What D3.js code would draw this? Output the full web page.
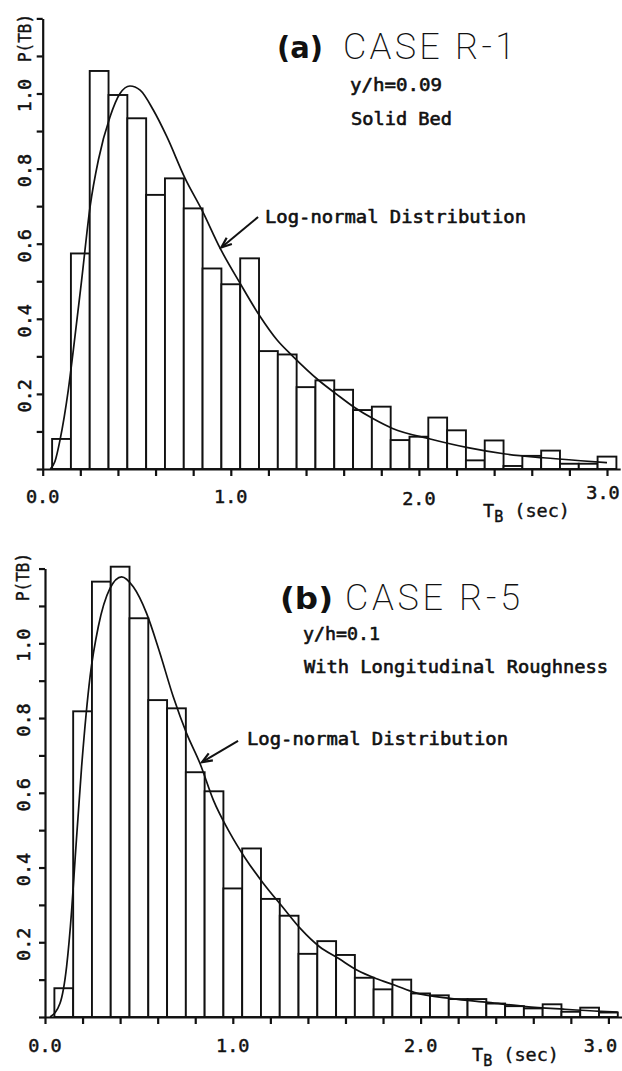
<!DOCTYPE html>
<html><head><meta charset="utf-8">
<script src="https://cdn.jsdelivr.net/npm/d3@7"></script>
<style>html,body{margin:0;padding:0;background:#fff;} svg{display:block;}</style>
</head><body><div id="chart"></div>
<script>
// ---------- DATA ----------
const binCenters = [0.1,0.2,0.3,0.4,0.5,0.6,0.7,0.8,0.9,1.0,1.1,1.2,1.3,1.4,1.5,1.6,1.7,1.8,1.9,2.0,2.1,2.2,2.3,2.4,2.5,2.6,2.7,2.8,2.9,3.0];
const binWidth = 0.1;
const caseR1Values = [0.080,0.574,1.060,0.996,0.934,0.730,0.774,0.694,0.534,0.492,0.561,0.314,0.305,0.218,0.236,0.211,0.157,0.166,0.077,0.086,0.137,0.103,0.023,0.076,0.008,0.035,0.049,0.014,0.014,0.033];
const caseR5Values = [0.077,0.818,1.165,1.205,1.067,0.848,0.826,0.655,0.604,0.344,0.451,0.316,0.271,0.169,0.203,0.166,0.105,0.074,0.100,0.063,0.058,0.048,0.048,0.036,0.029,0.023,0.034,0.014,0.025,0.012];
const fitR1T = [0.04,0.065,0.092,0.136,0.163,0.207,0.252,0.296,0.358,0.411,0.464,0.518,0.588,0.66,0.757,0.846,0.943,1.049,1.156,1.245,1.33,1.47,1.56,1.66,1.76,1.86,2.06,2.26,2.46,2.66,2.86,3.0];
const fitR1P = [0.0,0.02,0.077,0.21,0.317,0.503,0.699,0.823,0.938,1.0,1.02,1.009,0.956,0.885,0.774,0.69,0.588,0.495,0.406,0.344,0.30,0.235,0.2,0.163,0.133,0.108,0.080,0.057,0.040,0.030,0.022,0.017];
const fitR5T = [0.027,0.08,0.115,0.142,0.16,0.195,0.24,0.284,0.346,0.408,0.47,0.541,0.608,0.683,0.754,0.825,0.896,0.985,1.061,1.162,1.264,1.363,1.462,1.562,1.663,1.762,1.864,1.965,2.166,2.36,2.56,2.76,2.96,3.05];
const fitR5P = [0.0,0.037,0.135,0.286,0.42,0.67,0.911,1.045,1.147,1.178,1.151,1.08,0.98,0.857,0.759,0.679,0.581,0.492,0.429,0.358,0.295,0.235,0.188,0.157,0.125,0.103,0.085,0.066,0.049,0.039,0.028,0.021,0.015,0.013];
const xTickValues = [0,0.2,0.4,0.6,0.8,1.0,1.2,1.4,1.6,1.8,2.0,2.2,2.4,2.6,2.8,3.0];
const xLabelValues = [0,1,2,3];
const xLabelTexts = ["0.0","1.0","2.0","3.0"];
const yTickValues = [0,0.1,0.2,0.3,0.4,0.5,0.6,0.7,0.8,0.9,1.0,1.1,1.2];
const yLabelValues = [0.2,0.4,0.6,0.8,1.0];
const yLabelTexts = ["0.2","0.4","0.6","0.8","1.0"];
const panelTags = ["(a)","(b)"];
const caseNames = ["CASE R-1","CASE R-5"];
const conditionLinesA = ["y/h=0.09","Solid Bed"];
const conditionLinesB = ["y/h=0.1","With Longitudinal Roughness"];
const fitLabel = "Log-normal Distribution";
const yAxisTitle = "P(TB)";

// ---------- LAYOUT ----------
const W = 622, H = 1071;
const svg = d3.select("#chart").append("svg").attr("width", W).attr("height", H)
  .style("background","#fff");
const mono = "'DejaVu Sans Mono', 'Liberation Mono', monospace";
const ink = "#111";

const panels = [
  { values: caseR1Values, fitT: fitR1T, fitP: fitR1P,
    xr: [42.7, 42.7 + 3.07*188.1], y0: 469, yTop: 469 - 1.2*375.5,
    yLabelX: 25, titleY: 38,
    xLabelY: 503, xLabelDx: [0,0,0,-4], xLabelDy: [0,0,2,-4],
    tb: {x: 483, y: 517},
    tag: {text: panelTags[0], x: 277, y: 58, w: 46},
    caseName: {text: caseNames[0], x: 343, y: 59, w: 172},
    lines: [{text: conditionLinesA[0], x: 350, y: 91, w: 92}, {text: conditionLinesA[1], x: 351, y: 125, w: 101}],
    fitText: {x: 265, y: 223, w: 261},
    arrow: {tail: [1.145, 0.671], tip: [0.95, 0.59]} },
  { values: caseR5Values, fitT: fitR5T, fitP: fitR5P,
    xr: [45, 45 + 3.07*187.8], y0: 1017, yTop: 1017 - 1.2*373.7,
    yLabelX: 23.5, titleY: 577,
    xLabelY: 1052, xLabelDx: [0,0,0,-8], xLabelDy: [0,0,0,0],
    tb: {x: 472, y: 1061},
    tag: {text: panelTags[1], x: 280, y: 609, w: 53},
    caseName: {text: caseNames[1], x: 345, y: 610, w: 175},
    lines: [{text: conditionLinesB[0], x: 303, y: 640, w: 77}, {text: conditionLinesB[1], x: 304, y: 673, w: 304}],
    fitText: {x: 247, y: 745, w: 261},
    arrow: {tail: [1.028, 0.739], tip: [0.836, 0.682]} }
];

function heavy(sel, w) {
  return sel.attr("stroke", ink).attr("stroke-width", w).attr("stroke-linejoin","round");
}

panels.forEach(P => {
  const g = svg.append("g");
  const x = d3.scaleLinear().domain([0, 3.07]).range(P.xr);
  const y = d3.scaleLinear().domain([0, 1.2]).range([P.y0, P.yTop]);

  // bars
  g.selectAll("rect.bar").data(binCenters).join("rect").attr("class","bar")
    .attr("x", d => x(d - binWidth/2))
    .attr("width", d => x(d + binWidth/2) - x(d - binWidth/2))
    .attr("y", (d,i) => y(P.values[i]))
    .attr("height", (d,i) => y(0) - y(P.values[i]))
    .attr("fill", "#fff").attr("stroke", ink).attr("stroke-width", 1.9);

  // fitted curve
  const pts = P.fitT.map((t,i) => [t, P.fitP[i]]);
  g.append("path").datum(pts)
    .attr("d", d3.line().x(d => x(d[0])).y(d => y(d[1])).curve(d3.curveMonotoneX))
    .attr("fill","none").attr("stroke", ink).attr("stroke-width", 1.7);

  // x axis
  const xAxis = d3.axisBottom(x).tickValues(xTickValues).tickSize(7).tickSizeOuter(0).tickFormat("");
  const xa = g.append("g").attr("transform", `translate(0,${y(0)})`).call(xAxis);
  xa.selectAll("path,line").attr("stroke", ink).attr("stroke-width", 2.2);

  // y axis
  const yAxis = d3.axisLeft(y).tickValues(yTickValues).tickSize(6).tickSizeOuter(0).tickFormat("");
  const ya = g.append("g").attr("transform", `translate(${x(0)},0)`).call(yAxis);
  ya.selectAll("path,line").attr("stroke", ink).attr("stroke-width", 2.2);

  // x labels
  heavy(g.selectAll("text.xl").data(xLabelValues).join("text").attr("class","xl")
    .attr("x", (d,i) => x(d) + P.xLabelDx[i]).attr("y", (d,i) => P.xLabelY + P.xLabelDy[i])
    .attr("text-anchor","middle").attr("font-family", mono).attr("font-size", 18.5)
    .attr("fill", ink).text((d,i) => xLabelTexts[i]), 0.5);

  // y labels (rotated)
  heavy(g.selectAll("text.yl").data(yLabelValues).join("text").attr("class","yl")
    .attr("transform", d => `translate(${P.yLabelX},${y(d) + 2}) rotate(-90)`)
    .attr("text-anchor","middle").attr("dy","0.35em")
    .attr("font-family", mono).attr("font-size", 18.5).attr("fill", ink)
    .text((d,i) => yLabelTexts[i]), 0.5);

  // y title
  heavy(g.append("text").attr("transform", `translate(${P.yLabelX},${P.titleY}) rotate(-90)`)
    .attr("text-anchor","middle").attr("dy","0.35em")
    .attr("font-family", mono).attr("font-size", 17).attr("fill", ink)
    .attr("textLength", 48).attr("lengthAdjust","spacingAndGlyphs")
    .text(yAxisTitle), 0.4);

  // x title T_B (sec)
  const tb = heavy(g.append("text").attr("x", P.tb.x).attr("y", P.tb.y)
    .attr("font-family", mono).attr("font-size", 18.5).attr("fill", ink), 0.4);
  tb.append("tspan").text("T");
  tb.append("tspan").attr("dy", 5).attr("font-size", 15).text("B");
  tb.append("tspan").attr("dy", -5).text(" (sec)");

  // panel tag
  g.append("text").attr("x", P.tag.x).attr("y", P.tag.y)
    .attr("font-family", "'DejaVu Sans', sans-serif").attr("font-weight","bold")
    .attr("font-size", 31).attr("fill", ink)
    .attr("textLength", P.tag.w).attr("lengthAdjust","spacingAndGlyphs")
    .text(P.tag.text);

  // case name
  g.append("text").attr("x", P.caseName.x).attr("y", P.caseName.y)
    .attr("font-family", "Roboto, 'DejaVu Sans', sans-serif").attr("font-weight", 200)
    .attr("font-size", 36).attr("fill", ink)
    .attr("textLength", P.caseName.w).attr("lengthAdjust","spacing")
    .text(P.caseName.text);

  // condition lines
  P.lines.forEach(L => {
    heavy(g.append("text").attr("x", L.x).attr("y", L.y)
      .attr("font-family", mono).attr("font-size", 18)
      .attr("fill", ink).attr("textLength", L.w).attr("lengthAdjust","spacingAndGlyphs")
      .text(L.text), 0.6);
  });

  // fit label + arrow
  heavy(g.append("text").attr("x", P.fitText.x).attr("y", P.fitText.y)
    .attr("font-family", mono).attr("font-size", 18)
    .attr("fill", ink).attr("textLength", P.fitText.w).attr("lengthAdjust","spacingAndGlyphs")
    .text(fitLabel), 0.6);

  const tx = x(P.arrow.tail[0]), ty = y(P.arrow.tail[1]);
  const hx = x(P.arrow.tip[0]), hy = y(P.arrow.tip[1]);
  g.append("line").attr("x1", tx).attr("y1", ty).attr("x2", hx).attr("y2", hy)
    .attr("stroke", ink).attr("stroke-width", 2);
  const ang = Math.atan2(hy - ty, hx - tx);
  const len = 11, spread = 0.38;
  const a1 = [hx - len*Math.cos(ang - spread), hy - len*Math.sin(ang - spread)];
  const a2 = [hx - len*Math.cos(ang + spread), hy - len*Math.sin(ang + spread)];
  g.append("path").attr("d", `M${a1[0]},${a1[1]}L${hx},${hy}L${a2[0]},${a2[1]}`)
    .attr("fill","none").attr("stroke", ink).attr("stroke-width", 2.2);
});
</script>
</body></html>
